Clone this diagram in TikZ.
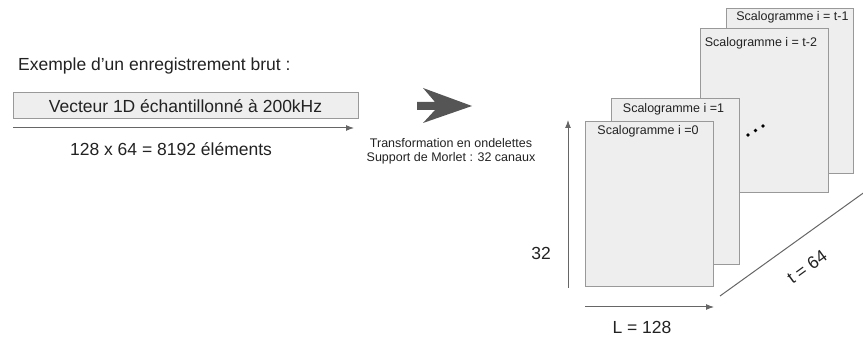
\documentclass[tikz,border=0pt]{standalone}
\usepackage{fontspec}
\setmainfont{Liberation Sans}
\usetikzlibrary{arrows.meta}
\definecolor{txt}{HTML}{222222}
\definecolor{boxfill}{HTML}{EEEEEE}
\definecolor{boxline}{HTML}{999999}
\definecolor{arr}{HTML}{666666}
\definecolor{bigarr}{HTML}{555555}
\tikzset{
  big/.style={text=txt, font=\fontsize{17.5}{20}\selectfont, inner sep=0pt},
  small/.style={text=txt, font=\fontsize{12.5}{14.5}\selectfont, inner sep=0pt, align=center},
  scal/.style={draw=boxline, fill=boxfill, line width=1pt, inner sep=0pt, outer sep=0pt, rectangle},
  axis/.style={draw=arr, line width=1pt, -{Latex[length=8pt,width=6pt]}},
}
\begin{document}
\begin{tikzpicture}[x=1pt,y=-1pt]
\useasboundingbox (0,0) rectangle (863,339);
% left part
\node[big, anchor=west] (ex) at (18,66) {Exemple d’un enregistrement brut :};
\node[scal, minimum width=345pt, minimum height=26pt] (vec) at (185.5,106) {};
\node[big] (vectxt) at (vec.center) {Vecteur 1D échantillonné à 200kHz};
\coordinate (a1) at (13,128);
\coordinate (a2) at (354,128);
\draw[axis] (a1) -- (a2);
\node[big] (nb) at (171,149) {128 x 64 = 8192 éléments};
% big arrow
\fill[bigarr] (417,102) -- (435,102) -- (423,88) -- (472,106) -- (423,123) -- (435,110) -- (417,110) -- cycle;
\node[small] (tr) at (451,151.5) {Transformation en ondelettes\\Support de Morlet : 32 canaux};
% scalogrammes
\node[scal, minimum width=127pt, minimum height=165pt] (s3) at (789.5,91.5) {};
\node[small] (l3) at (792.5,17) {Scalogramme i = t-1};
\node[scal, minimum width=128pt, minimum height=164pt] (s2) at (764,111) {};
\node[small] (l2) at (761,43) {Scalogramme i = t-2};
\node[scal, minimum width=128pt, minimum height=166pt] (s1) at (675,182) {};
\node[small] (l1) at (673.5,109) {Scalogramme i =1};
\node[scal, minimum width=128pt, minimum height=165pt] (s0) at (649,204.5) {};
\node[small] (l0) at (648,131) {Scalogramme i =0};
% dots
\fill[black] (748,135) circle (1.8pt) (755.5,130.5) circle (1.8pt) (763,126) circle (1.8pt);
% axes
\coordinate (v1) at (568,288);
\coordinate (v2) at (568,120);
\draw[axis] (v1) -- (v2);
\node[big] (n32) at (541,253) {32};
\coordinate (h1) at (585,307);
\coordinate (h2) at (714,307);
\draw[axis] (h1) -- (h2);
\node[big] (nL) at (642,327) {L = 128};
\coordinate (d1) at (720,296);
\coordinate (d2) at (864,192.5);
\draw[draw=arr, line width=1pt] (d1) -- (d2);
\node[big, rotate=36] (nt) at (807,267) {t = 64};
\end{tikzpicture}
\end{document}
